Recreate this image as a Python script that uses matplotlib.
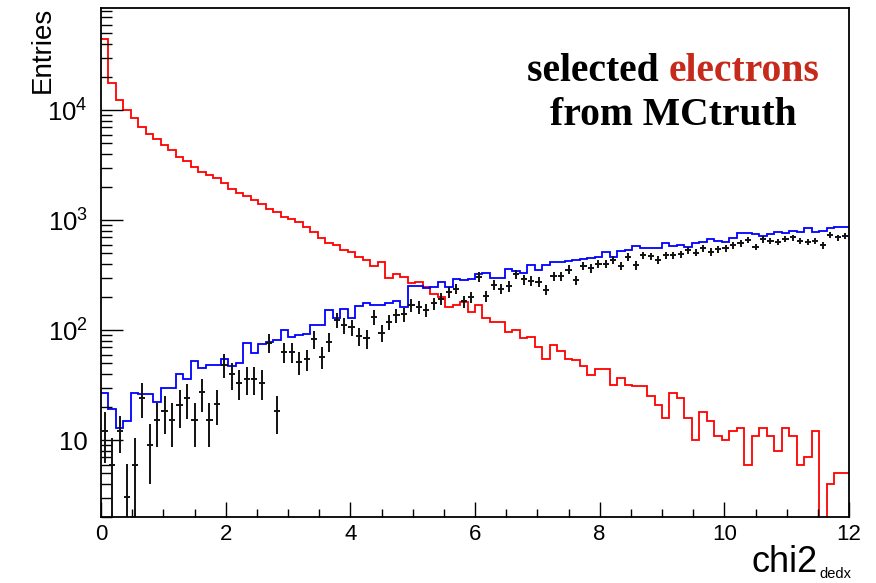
"""
plot.py

chi2_dedx distribution for selected electrons (MC truth), log scale.
Red / blue step histograms and black data points with error bars.

Output:
  out.png
"""

import matplotlib

matplotlib.use("Agg")
import matplotlib.pyplot as plt
import matplotlib.ticker as mticker
import numpy as np


XMIN, XMAX, NBINS = 0.0, 12.0, 100
YMIN, YMAX = 2.0, 8.5e4

# red step histogram (electrons from MC truth)
RED = [
    44000, 17500, 12500, 10150, 8410, 7050, 6050, 5480, 4780, 4330,
    3760, 3440, 3050, 2750, 2580, 2430, 2180, 1930, 1770, 1675,
    1540, 1400, 1275, 1180, 1070, 1015, 967, 869, 783, 682,
    622, 593, 534, 515, 464, 433, 382, 418, 301, 321,
    305, 266, 275, 248, 215, 201, 163, 169, 182, 146,
    169, 128, 119, 118, 97, 100, 85, 87, 71, 55,
    73, 64, 55, 54, 47, 39, 44, 44, 32, 37,
    32, 31, 31, 25, 21, 16, 27, 24, 16, 10,
    18, 15, 11, 10, 12, 13, 6, 11, 13, 11,
    8, 13, 11, 6, 7, 12, 1, 4, 5, 5,
]

# blue step histogram
BLUE = [
    27, 19, 13, 15, 26.6, 26, 26, 22, 30, 30,
    40, 36, 52, 45, 48, 48, 55, 47, 50, 76,
    62, 75, 78, 82, 100, 87, 90, 92, 111, 111,
    154, 128, 157, 130, 165, 175, 169, 169, 175, 185,
    163, 251, 251, 244, 248, 275, 248, 291, 285, 289,
    321, 332, 295, 295, 359, 344, 332, 390, 356, 390,
    418, 418, 427, 433, 442, 454, 464, 515, 464, 526,
    534, 580, 553, 553, 553, 614, 584, 593, 572, 614,
    631, 668, 645, 635, 682, 757, 757, 746, 720, 746,
    773, 757, 794, 773, 841, 783, 794, 851, 859, 859,
]

# black points and their errors
BLACK = [
    12.2, 6.0, 12.2, 3.05, 6.0, 24.3, 9.0, 15.1, 18.3, 15.1,
    20.8, 24.2, 15.1, 27.2, 15.1, 21.1, 48.7, 39.8, 33.2, 35.9,
    35.9, 33.2, 76.7, 18.3, 63.5, 63.5, 51.5, 54.2, 82.3, 57.2,
    78.4, 123, 111, 107, 88, 84, 132, 95, 119, 137,
    139, 169, 161, 152, 175, 194, 223, 239, 183, 200,
    305, 204, 260, 239, 251, 321, 289, 281, 275, 234,
    310, 310, 356, 285, 382, 364, 398, 398, 433, 382,
    464, 390, 481, 471, 433, 481, 481, 491, 534, 508,
    553, 515, 542, 553, 593, 614, 658, 572, 668, 649,
    635, 672, 696, 645, 635, 645, 593, 731, 696, 720,
]
BLACK_ERR = [
    6, 4.5, 4.5, 3, 4.5, 8.5, 5, 6.5, 7, 6.5,
    7.8, 8.5, 6.5, 9, 6.5, 7.5, 12, 11, 10, 10,
    10, 10, 15, 7, 13, 13, 12, 12, 15, 13,
    15, 19, 18, 18, 16, 16, 20, 17, 19, 20,
    20, 22, 22, 21, 22, 24, 25, 26, 23, 24,
    30, 24, 27, 26, 27, 30, 29, 28, 28, 26,
    30, 30, 32, 29, 33, 32, 34, 34, 35, 33,
    37, 34, 37, 37, 35, 37, 37, 38, 39, 38,
    40, 39, 40, 40, 41, 42, 44, 41, 44, 43,
    43, 44, 45, 43, 43, 43, 41, 46, 45, 46,
]

Y_TICKS = [10, 100, 1000, 10000]
Y_TICK_LABELS = ["10", r"$10^{2}$", r"$10^{3}$", r"$10^{4}$"]
X_TICKS = [0, 2, 4, 6, 8, 10, 12]

W, H = 876, 583
DPI = 100

plt.rcParams["font.family"] = ["Liberation Sans", "DejaVu Sans"]
plt.rcParams["mathtext.fontset"] = "custom"
plt.rcParams["mathtext.rm"] = "Liberation Sans"
plt.rcParams["mathtext.it"] = "Liberation Sans"


def main() -> None:
    edges = np.linspace(XMIN, XMAX, NBINS + 1)
    centers = 0.5 * (edges[:-1] + edges[1:])

    fig = plt.figure(figsize=(W / DPI, H / DPI), dpi=DPI)
    ax = fig.add_axes([101 / W, 1 - 517 / H, (849 - 101) / W, (517 - 8) / H])

    ax.set_yscale("log", nonpositive="clip")

    ax.stairs(RED, edges, baseline=None, color="#ff0000", linewidth=1.3)
    ax.stairs(BLUE, edges, baseline=None, color="#0000ff", linewidth=1.3)
    ax.errorbar(
        centers, BLACK, yerr=BLACK_ERR, xerr=0.05,
        fmt="none", ecolor="#111111", elinewidth=1.4, capsize=0,
    )

    ax.set_xlim(XMIN, XMAX)
    ax.set_ylim(YMIN, YMAX)

    ax.set_yticks(Y_TICKS)
    ax.set_yticklabels(Y_TICK_LABELS)
    ax.yaxis.set_minor_locator(mticker.LogLocator(base=10, subs=range(2, 10), numticks=20))
    ax.yaxis.set_minor_formatter(mticker.NullFormatter())

    ax.set_xticks(X_TICKS)
    ax.set_xticklabels([str(t) for t in X_TICKS])
    ax.xaxis.set_minor_locator(mticker.MultipleLocator(0.5))

    ax.tick_params(axis="both", which="both", direction="in", top=False, right=False,
                   width=1.0, color="black")
    ax.tick_params(axis="y", which="major", length=16, pad=9.5, labelsize=18.5)
    ax.tick_params(axis="y", which="minor", length=8)
    ax.tick_params(axis="x", which="major", length=11, pad=5, labelsize=16)
    ax.tick_params(axis="x", which="minor", length=5.5)

    for spine in ax.spines.values():
        spine.set_linewidth(1.3)
        spine.set_color("black")

    fig.text(43 / W, 1 - 7 / H, "Entries", rotation=90, ha="center", va="top", fontsize=20)

    # axis title: big "chi2" with a small subscript, as ROOT draws it
    fig.text(818 / W, 1 - 572 / H, "chi2", ha="right", va="baseline", fontsize=26)
    fig.text(819 / W, 1 - 578 / H, "dedx", ha="left", va="baseline", fontsize=10.5)

    serif = ["Liberation Serif", "DejaVu Serif"]
    t1 = fig.text(527 / W, 1 - 81 / H, "selected ", ha="left", va="baseline",
                  fontsize=28.5, fontweight="bold", family=serif, color="black")
    ax.annotate("electrons", xy=(1, 0), xycoords=t1, ha="left", va="bottom",
                fontsize=28.5, fontweight="bold", family=serif, color="#c62a1c")
    fig.text(673 / W, 1 - 125 / H, "from MCtruth", ha="center", va="baseline",
             fontsize=28.5, fontweight="bold", family=serif, color="black")

    fig.savefig("out.png", dpi=DPI)
    plt.close(fig)


if __name__ == "__main__":
    main()
